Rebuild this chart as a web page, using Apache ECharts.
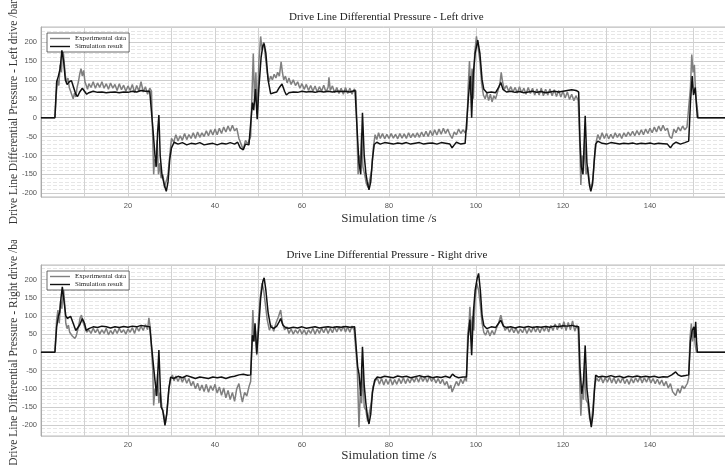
<!DOCTYPE html>
<html>
<head>
<meta charset="utf-8">
<script src="https://cdn.jsdelivr.net/npm/echarts@6/dist/echarts.min.js"></script>
<style>
  html, body { margin: 0; padding: 0; background: #fff; }
  #left { position: absolute; left: 0; top: 0; width: 725px; height: 240px; }
  #right { position: absolute; left: 0; top: 240px; width: 725px; height: 225px; }
</style>
</head>
<body>
<div id="left"></div>
<div id="right"></div>
<script>
// tick labels shown on the axes
const xTickLabels = [20, 40, 60, 80, 100, 120, 140]
const yTickLabels = [-200, -150, -100, -50, 0, 50, 100, 150, 200]
const seriesNames = ['Experimental data', 'Simulation result']

// left drive, [time s, pressure bar]
const leftExp = [
  [0, 0], [3.2, 0], [3.5, 60], [3.8, 100], [4.1, 85], [4.4, 140], [4.7, 120], [5.0, 195], [5.3, 150], [5.6, 110],
  [5.9, 95], [6.2, 105], [6.5, 80], [6.8, 70], [7.1, 60], [7.4, 50], [7.7, 65], [8.0, 55], [8.3, 80], [8.6, 95],
  [8.9, 115], [9.2, 130], [9.5, 110], [9.8, 125], [10.1, 95], [10.4, 85], [10.7, 75], [11, 90], [11.5, 80], [12, 95],
  [12.5, 78], [13, 92], [13.5, 80], [14, 95], [14.5, 78], [15, 90], [15.5, 75], [16, 92], [16.5, 78], [17, 88],
  [17.5, 72], [18, 90], [18.5, 74], [19, 86], [19.5, 70], [20, 84], [20.5, 72], [21, 88], [21.5, 66], [22, 85],
  [22.5, 70], [23, 95], [23.5, 68], [24, 82], [24.5, 62], [25, 78], [25.4, 70], [25.7, -60], [25.9, -150], [26.1, -110],
  [26.4, -130], [26.7, -60], [27.0, -150], [27.3, -120], [27.6, -160], [28.0, -150], [28.4, -185], [28.8, -190], [29.2, -150], [29.6, -100],
  [30, -55], [30.5, -65], [31, -45], [31.5, -62], [32, -48], [32.5, -60], [33, -42], [33.5, -58], [34, -45], [34.5, -55],
  [35, -40], [35.5, -55], [36, -38], [36.5, -52], [37, -40], [37.5, -50], [38, -35], [38.5, -48], [39, -32], [39.5, -46],
  [40, -30], [40.5, -45], [41, -28], [41.5, -42], [42, -25], [42.5, -38], [43, -22], [43.5, -36], [44, -20], [44.5, -35],
  [45, -28], [45.5, -55], [46, -70], [46.5, -85], [47, -60], [47.5, -70], [48.2, -50], [48.5, 60], [48.8, 170], [49.1, 40],
  [49.4, 120], [49.7, 10], [50.1, 150], [50.5, 215], [50.8, 180], [51.2, 200], [51.6, 160], [52.0, 120], [52.4, 95], [52.8, 110],
  [53.2, 100], [53.6, 115], [54.0, 105], [54.4, 120], [54.8, 110], [55.2, 148], [55.5, 120], [55.8, 100], [56.2, 110], [56.6, 92],
  [57, 105], [57.5, 88], [58, 100], [58.5, 85], [59, 95], [59.5, 78], [60, 90], [60.5, 75], [61, 88], [61.5, 72],
  [62, 85], [62.5, 70], [63, 84], [63.5, 68], [64, 82], [64.5, 70], [65, 86], [65.5, 68], [66, 80], [66.2, 107],
  [66.5, 72], [67, 84], [67.5, 66], [68, 80], [68.5, 64], [69, 78], [69.5, 62], [70, 80], [70.5, 64], [71, 78],
  [71.5, 62], [72, 76], [72.4, 70], [72.7, -60], [72.9, -150], [73.1, -100], [73.4, -130], [73.7, -40], [74, -130], [74.4, -150],
  [74.8, -175], [75.2, -185], [75.6, -190], [76, -140], [76.4, -80], [76.8, -45], [77.2, -58], [77.6, -40], [78, -55], [78.5, -42],
  [79, -56], [79.5, -44], [80, -55], [80.5, -42], [81, -54], [81.5, -44], [82, -56], [82.5, -42], [83, -54], [83.5, -43],
  [84, -55], [84.5, -40], [85, -53], [85.5, -42], [86, -52], [86.5, -40], [87, -52], [87.5, -38], [88, -50], [88.5, -36],
  [89, -50], [89.5, -34], [90, -48], [90.5, -32], [91, -46], [91.5, -30], [92, -44], [92.5, -28], [93, -42], [93.5, -30],
  [94, -45], [94.5, -55], [95, -38], [95.5, -45], [96, -30], [96.5, -42], [97, -32], [97.5, -40], [97.9, -30], [98.2, 80],
  [98.5, 150], [98.8, 60], [99.1, 130], [99.4, 50], [99.7, 170], [100.1, 215], [100.5, 185], [100.9, 150], [101.3, 90], [101.7, 60],
  [102.1, 50], [102.5, 65], [102.9, 45], [103.3, 62], [103.7, 42], [104.1, 58], [104.5, 50], [105, 70], [105.5, 90], [105.8, 120],
  [106.1, 95], [106.5, 75], [107, 85], [107.5, 70], [108, 82], [108.5, 68], [109, 80], [109.5, 65], [110, 82], [110.5, 66],
  [111, 78], [111.5, 62], [112, 80], [112.5, 64], [113, 78], [113.5, 60], [114, 76], [114.5, 60], [115, 78], [115.5, 58],
  [116, 75], [116.5, 60], [117, 76], [117.5, 58], [118, 74], [118.5, 56], [119, 72], [119.5, 55], [120, 70], [120.5, 52],
  [121, 68], [121.5, 48], [122, 62], [122.5, 45], [123, 58], [123.5, 45], [123.8, -50], [124.1, -178], [124.4, -100], [124.7, -140],
  [125.0, -60], [125.3, -150], [125.7, -130], [126.1, -175], [126.5, -185], [126.9, -160], [127.3, -100], [127.7, -60], [128, -45], [128.5, -58],
  [129, -40], [129.5, -55], [130, -42], [130.5, -56], [131, -44], [131.5, -55], [132, -40], [132.5, -52], [133, -42], [133.5, -55],
  [134, -40], [134.5, -50], [135, -38], [135.5, -48], [136, -36], [136.5, -48], [137, -34], [137.5, -46], [138, -32], [138.5, -45],
  [139, -30], [139.5, -42], [140, -28], [140.5, -40], [141, -25], [141.5, -38], [142, -22], [142.5, -35], [143, -20], [143.5, -34],
  [144, -28], [144.5, -50], [145, -55], [145.5, -30], [146, -40], [146.5, -25], [147, -35], [147.5, -22], [148, -32], [148.5, -25],
  [148.9, -20], [149.3, 80], [149.6, 167], [149.9, 120], [150.2, 140], [150.5, 60], [150.8, 30], [151.1, 0], [160, 0]
]
const leftSim = [
  [0, 0], [3.2, 0], [3.6, 95], [4.0, 110], [4.4, 130], [4.8, 178], [5.2, 150], [5.6, 100], [6.0, 88], [6.5, 95],
  [7.0, 98], [7.5, 80], [8.0, 62], [8.4, 56], [8.9, 68], [9.5, 78], [10.0, 70], [10.5, 62], [11, 66], [12, 70],
  [13, 67], [14, 68], [15, 66], [16, 67], [17, 68], [18, 66], [19, 68], [20, 67], [21, 70], [22, 68],
  [23, 72], [24, 70], [25, 70], [25.4, 70], [25.8, -40], [26.2, -100], [26.5, -130], [26.8, -40], [27.1, 7], [27.4, -100],
  [27.8, -150], [28.1, -145], [28.4, -180], [28.8, -195], [29.2, -170], [29.6, -110], [30.0, -80], [30.6, -65], [31.5, -70], [32.5, -66],
  [33.5, -72], [34.5, -68], [35.5, -70], [36.5, -66], [37.5, -72], [38.5, -70], [39.5, -68], [40.5, -72], [41.5, -68], [42.5, -70],
  [43.5, -66], [44.5, -70], [45.2, -65], [45.8, -80], [46.5, -85], [47, -70], [47.8, -72], [48.2, -70], [48.6, 40], [48.9, 20],
  [49.3, 76], [49.7, -4], [50.1, 80], [50.6, 160], [51.0, 190], [51.3, 196], [51.7, 170], [52.2, 100], [52.8, 63], [53.5, 66],
  [54.2, 68], [54.8, 80], [55.4, 89], [56.0, 70], [56.4, 60], [57, 66], [58, 68], [59, 67], [60, 70], [61, 68],
  [62, 69], [63, 67], [64, 70], [65, 68], [66, 70], [67, 68], [68, 70], [69, 69], [70, 70], [71, 68],
  [72.2, 72], [72.5, 70], [72.8, -60], [73.1, -120], [73.5, -150], [73.9, 13], [74.3, -100], [74.7, -149], [75.0, -170], [75.4, -191],
  [75.8, -170], [76.2, -110], [76.6, -71], [77.2, -65], [78, -70], [79, -66], [80, -68], [81, -70], [82, -67], [83, -69],
  [84, -66], [85, -70], [86, -68], [87, -66], [88, -70], [89, -68], [90, -67], [91, -70], [92, -66], [93, -68],
  [94, -70], [94.5, -80], [95, -72], [95.5, -65], [96.5, -70], [97.5, -68], [97.9, -70], [98.3, 60], [98.7, 110], [99.0, 0],
  [99.4, 120], [99.8, 170], [100.4, 205], [100.9, 170], [101.4, 100], [101.8, 75], [102.5, 66], [103.5, 68], [104.5, 66], [105.2, 80],
  [105.7, 93], [106.2, 75], [107, 68], [108, 70], [109, 67], [110, 69], [111, 66], [112, 68], [113, 70], [114, 67],
  [115, 69], [116, 66], [117, 68], [118, 70], [119, 68], [120, 70], [121, 72], [122, 74], [123, 72], [123.6, 68],
  [123.9, -60], [124.2, -130], [124.6, -150], [125.1, 5], [125.5, -120], [125.8, -150], [126.1, -180], [126.4, -195], [126.8, -175], [127.2, -110],
  [127.5, -70], [128, -62], [129, -68], [130, -70], [131, -66], [132, -68], [133, -70], [134, -68], [135, -69], [136, -67],
  [137, -70], [138, -68], [139, -69], [140, -67], [141, -70], [142, -68], [143, -69], [144, -70], [144.7, -80], [145.3, -70],
  [146, -65], [147, -70], [148, -66], [148.9, -62], [149.3, 40], [149.7, 110], [150.0, 60], [150.4, 80], [150.7, 30], [150.9, 0],
  [160, 0]
]

// right drive, [time s, pressure bar]
const rightExp = [
  [0, 0], [3.2, 0], [3.6, 90], [3.9, 116], [4.2, 80], [4.5, 140], [4.8, 120], [5.1, 190], [5.4, 140], [5.7, 80],
  [6.0, 65], [6.3, 75], [6.6, 55], [6.9, 60], [7.2, 45], [7.5, 50], [7.8, 38], [8.1, 45], [8.4, 60], [8.7, 75],
  [9.0, 95], [9.3, 102], [9.6, 85], [9.9, 90], [10.2, 65], [10.5, 55], [11, 62], [11.5, 52], [12, 66], [12.5, 54],
  [13, 64], [13.5, 50], [14, 62], [14.5, 52], [15, 66], [15.5, 48], [16, 60], [16.5, 50], [17, 64], [17.5, 52],
  [18, 66], [18.5, 54], [19, 62], [19.5, 50], [20, 64], [20.5, 55], [21, 68], [21.5, 52], [22, 70], [22.5, 58],
  [23, 72], [23.5, 60], [24, 76], [24.5, 62], [24.8, 95], [25.1, 70], [25.4, 65], [25.7, -50], [25.9, -146], [26.2, -100],
  [26.5, -120], [26.8, -60], [27.1, -140], [27.4, -110], [27.8, -150], [28.2, -170], [28.6, -195], [29.0, -160], [29.4, -100], [29.8, -75],
  [30.2, -62], [30.6, -78], [31, -65], [31.5, -80], [32, -66], [32.5, -82], [33, -68], [33.5, -85], [34, -72], [34.5, -92],
  [35, -80], [35.5, -100], [36, -85], [36.5, -105], [37, -90], [37.5, -108], [38, -88], [38.5, -110], [39, -92], [39.5, -105],
  [40, -88], [40.5, -112], [41, -95], [41.5, -118], [42, -98], [42.5, -125], [43, -105], [43.5, -130], [44, -110], [44.5, -135],
  [45, -100], [45.5, -86], [46, -120], [46.3, -137], [46.8, -110], [47.3, -120], [47.8, -95], [48.2, -80], [48.5, 40], [48.7, 116],
  [49.0, 30], [49.3, 60], [49.6, -8], [50.0, 90], [50.4, 150], [50.8, 190], [51.2, 170], [51.6, 130], [52.0, 90], [52.5, 61],
  [53, 75], [53.5, 58], [54, 80], [54.5, 95], [55.1, 116], [55.5, 80], [56, 62], [56.5, 70], [57, 52], [57.5, 64],
  [58, 50], [58.5, 62], [59, 52], [59.5, 64], [60, 50], [60.5, 62], [61, 48], [61.5, 62], [62, 52], [62.5, 66],
  [63, 50], [63.5, 64], [64, 52], [64.5, 66], [65, 54], [65.5, 68], [66, 52], [66.5, 66], [67, 54], [67.5, 70],
  [68, 56], [68.5, 70], [69, 58], [69.5, 72], [70, 56], [70.5, 70], [71, 55], [71.5, 72], [72, 60], [72.4, 65],
  [72.7, -40], [73.1, -206], [73.4, -110], [73.7, -140], [74.0, -50], [74.3, -150], [74.7, -160], [75.1, -190], [75.5, -185], [75.9, -140],
  [76.3, -95], [76.8, -80], [77.3, -70], [77.8, -88], [78.3, -72], [78.8, -90], [79.3, -74], [79.8, -88], [80.3, -72], [80.8, -90],
  [81.3, -75], [81.8, -88], [82.3, -72], [82.8, -86], [83.3, -70], [83.8, -86], [84.3, -72], [84.8, -84], [85.3, -70], [85.8, -82],
  [86.3, -68], [86.8, -82], [87.3, -66], [87.8, -80], [88.3, -68], [88.8, -82], [89.3, -66], [89.8, -80], [90.3, -70], [90.8, -84],
  [91.3, -72], [91.8, -86], [92.3, -74], [92.8, -90], [93.3, -80], [93.8, -100], [94.2, -90], [94.5, -109], [95, -95], [95.5, -80],
  [96, -92], [96.5, -74], [97, -86], [97.5, -70], [97.8, -80], [98.1, 50], [98.4, 80], [98.6, 125], [98.9, 40], [99.2, 100],
  [99.5, 60], [99.8, 150], [100.2, 190], [100.6, 170], [101.0, 130], [101.4, 80], [101.8, 55], [102.2, 47], [102.7, 62], [103.2, 45],
  [103.7, 60], [104.2, 48], [104.7, 66], [105.2, 80], [105.7, 102], [106.2, 78], [106.7, 60], [107.2, 70], [107.7, 55], [108.2, 68],
  [108.7, 54], [109.2, 66], [109.7, 52], [110.2, 64], [110.7, 54], [111.2, 68], [111.7, 52], [112.2, 66], [112.7, 55], [113.2, 70],
  [113.7, 56], [114.2, 68], [114.7, 54], [115.2, 70], [115.7, 58], [116.2, 72], [116.7, 56], [117.2, 74], [117.7, 60], [118.2, 78],
  [118.7, 62], [119.2, 80], [119.7, 64], [120.2, 84], [120.7, 60], [121.2, 82], [121.7, 62], [122.2, 86], [122.7, 58], [123.2, 75],
  [123.5, 60], [123.8, -60], [124.1, -174], [124.4, -100], [124.7, -130], [125.0, -40], [125.3, -130], [125.7, -140], [126.1, -180], [126.5, -195],
  [126.9, -150], [127.3, -90], [127.7, -70], [128.2, -80], [128.7, -68], [129.2, -84], [129.7, -70], [130.2, -82], [130.7, -68], [131.2, -84],
  [131.7, -70], [132.2, -86], [132.7, -72], [133.2, -84], [133.7, -70], [134.2, -86], [134.7, -74], [135.2, -88], [135.7, -72], [136.2, -84],
  [136.7, -70], [137.2, -82], [137.7, -68], [138.2, -84], [138.7, -70], [139.2, -82], [139.7, -68], [140.2, -84], [140.7, -72], [141.2, -86],
  [141.7, -74], [142.2, -88], [142.7, -76], [143.2, -92], [143.7, -80], [144.2, -98], [144.7, -86], [145.2, -108], [145.9, -119], [146.4, -100],
  [146.9, -112], [147.4, -92], [147.9, -100], [148.2, -96], [148.6, -85], [148.9, -70], [149.2, 40], [149.5, 79], [149.8, 30], [150.1, 60],
  [150.4, 20], [150.7, 0], [160, 0]
]
const rightSim = [
  [0, 0], [3.2, 0], [3.6, 70], [4.0, 100], [4.3, 110], [4.6, 150], [4.9, 180], [5.3, 140], [5.7, 100], [6.1, 93],
  [6.8, 99], [7.4, 80], [8.0, 60], [8.3, 56], [8.9, 75], [9.5, 93], [10.0, 80], [10.4, 60], [11, 65], [12, 70],
  [13, 68], [14, 72], [15, 70], [16, 67], [17, 70], [18, 68], [19, 71], [20, 69], [21, 72], [22, 70],
  [23, 74], [24, 72], [25, 70], [25.4, 68], [25.8, -30], [26.2, -77], [26.6, -120], [27.1, 6], [27.6, -150], [28.0, -160],
  [28.5, -201], [28.9, -170], [29.4, -100], [29.8, -68], [30.5, -72], [31.5, -66], [32.5, -70], [33.5, -64], [34.5, -68], [35.5, -72],
  [36.5, -68], [37.5, -70], [38.5, -72], [39.5, -68], [40.5, -70], [41.5, -68], [42.5, -72], [43.5, -68], [44.5, -66], [45.5, -62],
  [46.5, -60], [47.5, -63], [48.2, -62], [48.6, 47], [48.9, 30], [49.2, 80], [49.6, -4], [50.0, 60], [50.5, 150], [51.0, 195],
  [51.3, 205], [51.7, 170], [52.2, 110], [52.8, 70], [53.5, 66], [54.2, 72], [54.8, 85], [55.1, 93], [55.6, 75], [56.2, 68],
  [57, 66], [58, 69], [59, 67], [60, 70], [61, 66], [62, 68], [63, 70], [64, 67], [65, 69], [66, 70],
  [67, 68], [68, 70], [69, 69], [70, 71], [71, 69], [72.1, 70], [72.4, 68], [72.8, -40], [73.1, -59], [73.5, -120],
  [73.9, 15], [74.3, -90], [74.7, -142], [75.1, -180], [75.4, -197], [75.8, -170], [76.2, -110], [76.7, -77], [77.3, -68], [78, -70],
  [79, -66], [80, -68], [81, -70], [82, -65], [83, -68], [84, -66], [85, -70], [86, -67], [87, -64], [88, -68],
  [89, -66], [90, -70], [91, -67], [92, -69], [93, -66], [94, -70], [94.6, -60], [95.2, -66], [96, -70], [97, -68],
  [97.8, -68], [98.2, 40], [98.6, 90], [99.0, -8], [99.4, 110], [99.8, 170], [100.3, 205], [100.6, 217], [101.0, 170], [101.4, 100],
  [101.8, 74], [102.5, 65], [103.5, 70], [104.5, 68], [105.2, 80], [105.7, 88], [106.3, 72], [107, 68], [108, 70], [109, 67],
  [110, 70], [111, 68], [112, 71], [113, 68], [114, 70], [115, 69], [116, 71], [117, 69], [118, 72], [119, 70],
  [120, 73], [121, 72], [122, 74], [123, 71], [123.6, 70], [123.9, -40], [124.3, -114], [124.7, -80], [125.1, 19], [125.5, -100],
  [125.9, -142], [126.2, -180], [126.5, -206], [126.9, -170], [127.2, -110], [127.5, -63], [128.2, -68], [129, -66], [130, -68], [131, -64],
  [132, -68], [133, -66], [134, -70], [135, -66], [136, -68], [137, -65], [138, -68], [139, -66], [140, -68], [141, -66],
  [142, -69], [143, -67], [144, -68], [145, -62], [145.9, -54], [146.5, -62], [147.2, -66], [148.2, -64], [148.9, -62], [149.3, 30],
  [149.7, 60], [150.1, 70], [150.3, 40], [150.5, 84], [150.7, 30], [150.9, 0], [160, 0]
]

const serif = 'Liberation Serif'
const sans = 'Liberation Sans'

const buildOption = (cfg) => ({
  animation: false,
  backgroundColor: '#fff',
  graphic: [{
    type: 'text',
    left: 389 - cfg.titleWidth / 2,
    top: cfg.titleTop,
    style: { text: cfg.title, font: '11px "' + serif + '"', fill: '#222' },
  }],
  legend: {
    data: seriesNames,
    orient: 'vertical',
    left: 47,
    top: cfg.legendTop,
    icon: 'rect',
    itemWidth: 20,
    itemHeight: 1.4,
    itemGap: 1,
    padding: [2, 3, 2, 3],
    backgroundColor: '#fff',
    borderColor: '#444',
    borderWidth: 0.8,
    borderRadius: 0,
    textStyle: { fontFamily: serif, fontSize: 7, color: '#222' },
  },
  grid: {
    left: 41, top: cfg.gridTop, width: 696, height: cfg.gridHeight,
    outerBoundsMode: 'none',
    show: true, borderColor: '#bdbdbd', borderWidth: 1,
  },
  xAxis: {
    type: 'value',
    min: 0,
    max: 160,
    interval: 10,
    name: 'Simulation time /s',
    nameLocation: 'middle',
    nameGap: cfg.xNameGap,
    nameMoveOverlap: false,
    nameTextStyle: { fontFamily: serif, fontSize: 13, color: '#333' },
    axisLine: { lineStyle: { color: '#aaa' } },
    axisTick: { show: false },
    axisLabel: {
      fontFamily: sans, fontSize: 7.5, color: '#555', margin: 5,
      formatter: (v) => (xTickLabels.includes(v) ? String(v) : ''),
    },
    splitLine: { lineStyle: { color: '#d2d2d2', width: 1 } },
  },
  yAxis: [
    {
      type: 'value',
      min: cfg.yMin,
      max: 240,
      interval: 10,
      name: cfg.yName,
      nameLocation: 'middle',
      nameGap: 21,
      nameMoveOverlap: false,
      nameTextStyle: { fontFamily: serif, fontSize: 11.5, color: '#333' },
      axisLine: { show: true, lineStyle: { color: '#aaa' } },
      axisTick: { show: false },
      axisLabel: {
        fontFamily: sans, fontSize: 7.5, color: '#555', margin: 4,
        formatter: (v) => (yTickLabels.includes(v) ? String(v) : ''),
      },
      splitLine: { lineStyle: { color: '#e6e6e6', type: [4, 2], width: 1 } },
    },
    {
      type: 'value',
      position: 'left',
      min: cfg.yMin,
      max: 240,
      minInterval: 50,
      maxInterval: 50,
      axisLine: { show: false },
      axisTick: { show: false },
      axisLabel: { show: false },
      splitLine: { lineStyle: { color: '#cdcdcd', width: 1 } },
    },
  ],
  series: [
    {
      name: seriesNames[0],
      type: 'line',
      data: cfg.exp,
      symbol: 'none',
      lineStyle: { color: '#7f7f7f', width: 1.5 },
      itemStyle: { color: '#7f7f7f' },
      z: 3,
    },
    {
      name: seriesNames[1],
      type: 'line',
      data: cfg.sim,
      symbol: 'none',
      lineStyle: { color: '#111', width: 1.5 },
      itemStyle: { color: '#111' },
      z: 4,
    },
  ],
})

const leftChart = echarts.init(document.getElementById('left'), null, { renderer: 'canvas' })
leftChart.setOption(buildOption({
  title: 'Drive Line Differential Pressure - Left drive',
  titleWidth: 200,
  titleTop: 12,
  legendTop: 33,
  gridTop: 27,
  gridHeight: 170,
  yMin: -210,
  xNameGap: 15,
  yName: 'Drive Line Differential Pressure - Left drive /bar',
  exp: leftExp,
  sim: leftSim,
}))

const rightChart = echarts.init(document.getElementById('right'), null, { renderer: 'canvas' })
rightChart.setOption(buildOption({
  title: 'Drive Line Differential Pressure - Right drive',
  titleWidth: 205,
  titleTop: 10,
  legendTop: 31,
  gridTop: 25,
  gridHeight: 171,
  yMin: -230,
  xNameGap: 13,
  yName: 'Drive Line Differential Pressure - Right drive /bar',
  exp: rightExp,
  sim: rightSim,
}))
</script>
</body>
</html>
